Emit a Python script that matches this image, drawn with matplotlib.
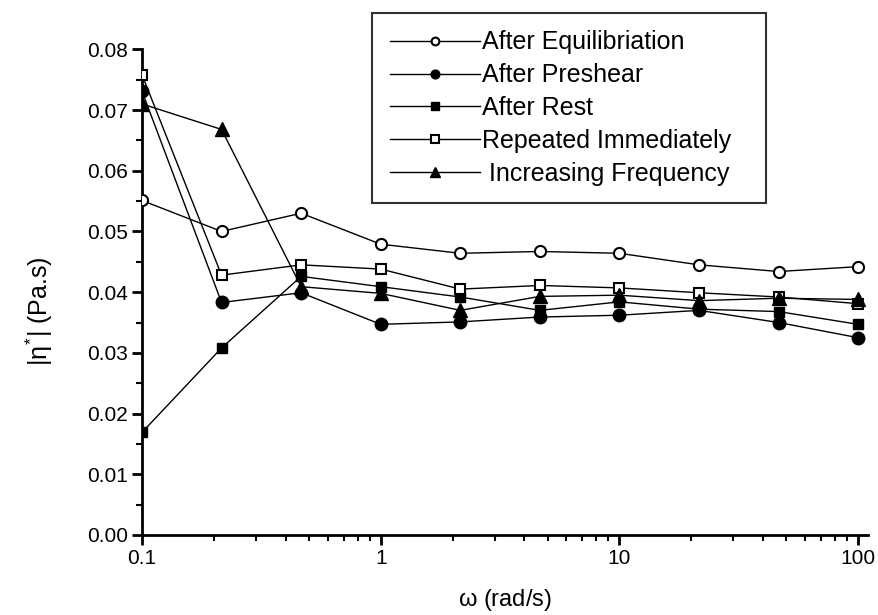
import matplotlib
matplotlib.use("Agg")
import matplotlib.pyplot as plt
from matplotlib.ticker import LogLocator, MultipleLocator, FixedLocator, FixedFormatter

plt.rcParams['font.family'] = ['Liberation Sans', 'DejaVu Sans']
plt.rcParams['mathtext.fontset'] = 'custom'
plt.rcParams['mathtext.rm'] = 'Liberation Sans'
plt.rcParams['mathtext.it'] = 'Liberation Sans'

# frequency sweep, rad/s
omega = [0.1, 0.2154, 0.4642, 1.0, 2.154, 4.642, 10.0, 21.54, 46.42, 100.0]

# complex viscosity |eta*| (Pa.s)
after_equil = [0.0551, 0.0500, 0.0530, 0.0479, 0.0464, 0.0467, 0.0464, 0.0445, 0.0434, 0.0442]
after_preshear = [0.0731, 0.0383, 0.0399, 0.0347, 0.0351, 0.0359, 0.0362, 0.0370, 0.0350, 0.0325]
after_rest = [0.0169, 0.0308, 0.0426, 0.0409, 0.0392, 0.0370, 0.0384, 0.0372, 0.0368, 0.0347]
repeated = [0.0758, 0.0428, 0.0445, 0.0438, 0.0405, 0.0411, 0.0407, 0.0399, 0.0392, 0.0381]
incr_freq = [0.0710, 0.0668, 0.0409, 0.0398, 0.0370, 0.0393, 0.0395, 0.0386, 0.0390, 0.0388]

labels = ["After Equilibriation", "After Preshear", "After Rest",
          "Repeated Immediately", " Increasing Frequency"]

fig = plt.figure(figsize=(8.79, 6.15), dpi=100)
ax = fig.add_axes([142/879, 1-535/615, (868-142)/879, (535-49.3)/615])

lw = 1.0
ax.plot(omega, after_equil, '-o', color='k', lw=lw, mfc='white', mec='k', mew=1.5, ms=8, label=labels[0], zorder=3)
ax.plot(omega, after_preshear, '-o', color='k', lw=lw, mfc='k', mec='k', ms=9, label=labels[1], zorder=3)
ax.plot(omega, after_rest, '-s', color='k', lw=lw, mfc='k', mec='k', ms=7.5, label=labels[2], zorder=3)
ax.plot(omega, repeated, '-s', color='k', lw=lw, mfc='white', mec='k', mew=1.5, ms=7.5, label=labels[3], zorder=3)
ax.plot(omega, incr_freq, '-^', color='k', lw=lw, mfc='k', mec='k', ms=10, label=labels[4], zorder=3)

ax.set_xscale('log')
ax.set_xlim(0.1, 110)
ax.set_ylim(0, 0.08)

ax.xaxis.set_major_locator(FixedLocator([0.1, 1, 10, 100]))
ax.xaxis.set_major_formatter(FixedFormatter(['0.1', '1', '10', '100']))
ax.xaxis.set_minor_locator(LogLocator(base=10, subs=range(2, 10)))
ax.yaxis.set_major_locator(MultipleLocator(0.01))
ax.yaxis.set_minor_locator(MultipleLocator(0.005))
ax.yaxis.set_major_formatter(matplotlib.ticker.FormatStrFormatter('%.2f'))

for s in ['top', 'right']:
    ax.spines[s].set_visible(False)
for s in ['left', 'bottom']:
    ax.spines[s].set_linewidth(2.0)

ax.tick_params(which='major', direction='out', length=7, width=2, labelsize=15, pad=3)
ax.tick_params(which='minor', direction='out', length=4, width=1.5)

ax.set_xlabel(r'$\omega$ (rad/s)', fontsize=17, labelpad=14)
ax.set_ylabel(r'$|\eta^{*}|$ (Pa.s)', fontsize=18)
ax.yaxis.set_label_coords(-0.12, 0.46)

# legend box spans a fixed width above the plot
leg = fig.legend(loc='upper left', bbox_to_anchor=(372/879, 1-203/615, 394/879, 190/615),
                 mode='expand', borderaxespad=0,
                 fontsize=18, frameon=True, fancybox=False, edgecolor='k',
                 handlelength=3.6, handletextpad=0.1, labelspacing=0.35,
                 borderpad=0.7, markerscale=0.7)
leg.get_frame().set_linewidth(1.5)

fig.savefig("out.png", dpi=100)
